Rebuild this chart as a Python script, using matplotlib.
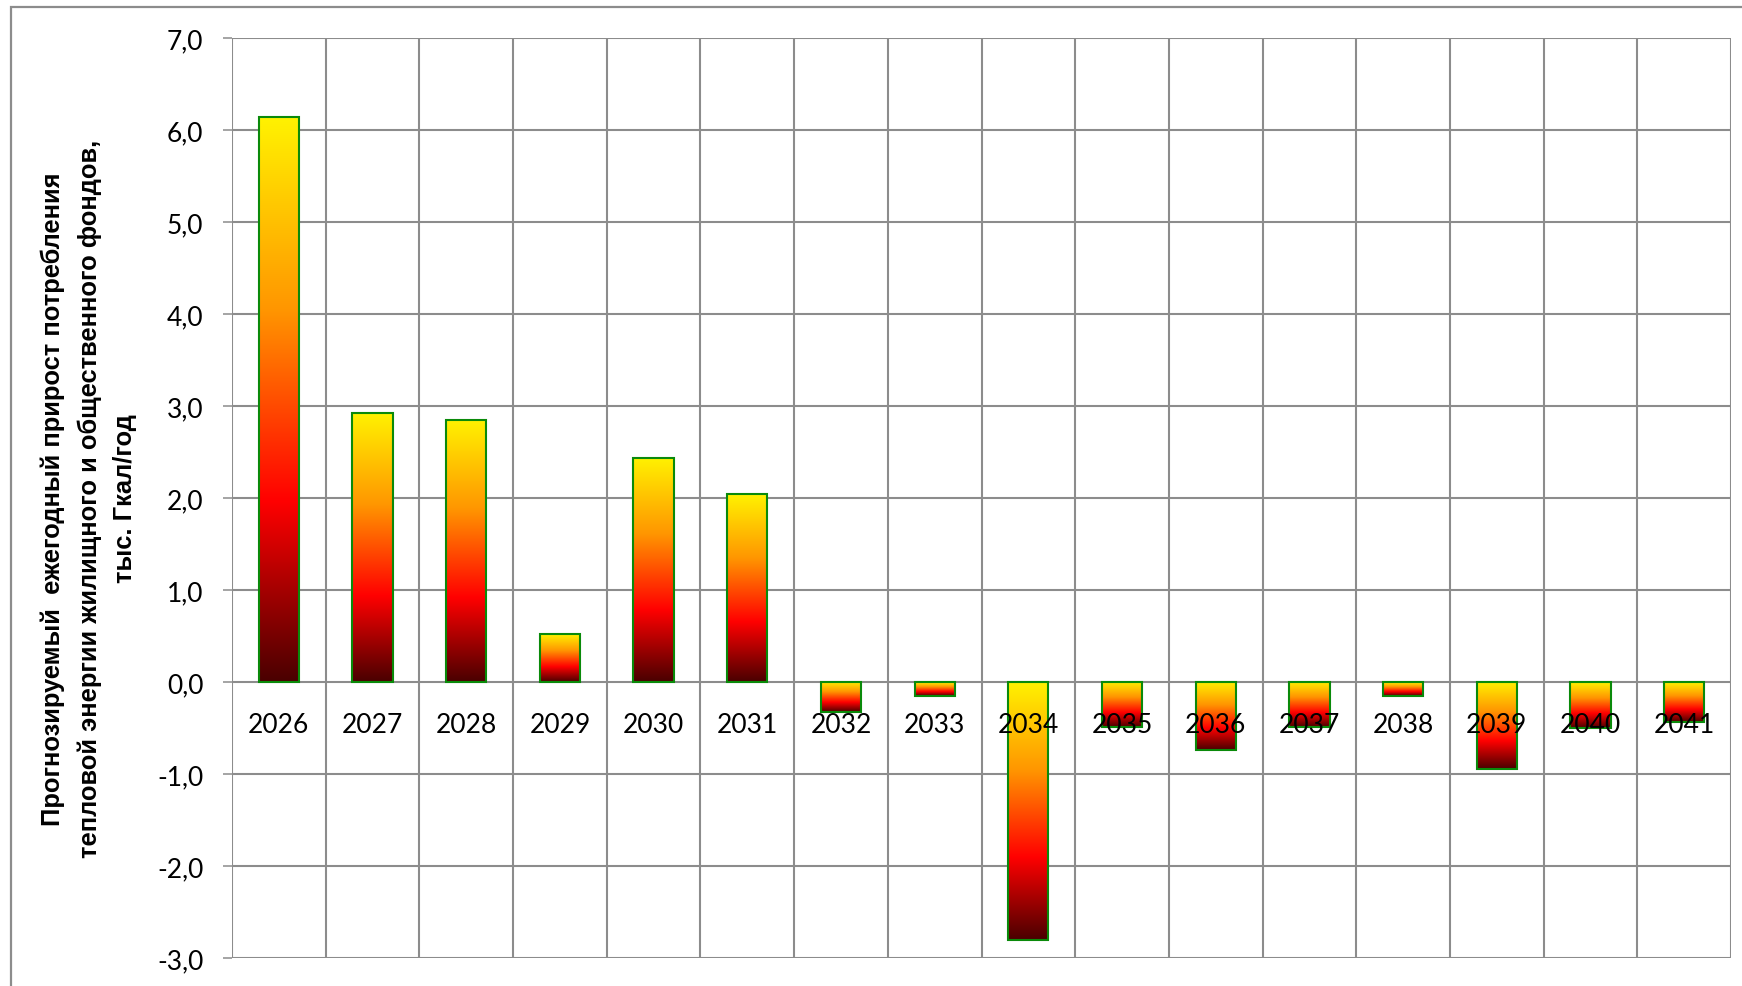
import numpy as np
import matplotlib
matplotlib.use("Agg")
import matplotlib.pyplot as plt
from matplotlib.colors import LinearSegmentedColormap
from matplotlib.patches import Rectangle

years = ["2026", "2027", "2028", "2029", "2030", "2031", "2032", "2033",
         "2034", "2035", "2036", "2037", "2038", "2039", "2040", "2041"]
growth = [6.14, 2.92, 2.85, 0.52, 2.44, 2.04, -0.33, -0.15,
          -2.80, -0.49, -0.74, -0.49, -0.15, -0.95, -0.50, -0.43]
y_ticks = [-3, -2, -1, 0, 1, 2, 3, 4, 5, 6, 7]
y_label = ("Прогнозируемый  ежегодный прирост потребления\n"
           "тепловой энергии жилищного и общественного фондов,\n"
           "тыс. Гкал/год")

GRID = "#8c8c8c"
EDGE = "#0a8a0a"
fire = LinearSegmentedColormap.from_list(
    "fire", [(0.0, "#4a0000"), (0.32, "#ff0000"), (0.66, "#ff9600"), (1.0, "#fff200")])

W, H = 1742, 987
fig = plt.figure(figsize=(W / 100, H / 100), dpi=100)
fig.patch.set_facecolor("white")

# outer chart frame (runs off the right and bottom edges)
fig.add_artist(Rectangle((11 / W, -0.05), 1.2, 1 - 8 / H + 0.05, transform=fig.transFigure,
                         fill=False, edgecolor=GRID, lw=1.6))

ax = fig.add_axes([232 / W, 1 - 959 / H, (1731 - 232) / W, (959 - 39) / H])
ax.set_facecolor("white")
n = len(years)
ax.set_xlim(-0.5, n - 0.5)
ax.set_ylim(y_ticks[0], y_ticks[-1])

# grid: horizontal at each tick, vertical between categories
for yv in y_ticks:
    ax.axhline(yv, color=GRID, lw=1.5, zorder=1)
for xv in np.arange(-0.5, n, 1.0):
    ax.axvline(xv, color=GRID, lw=1.5, zorder=1)

x = np.arange(n)
bars = ax.bar(x, growth, width=0.43, facecolor="none", edgecolor=EDGE, lw=1.5, zorder=3)

grad = np.linspace(0, 1, 256).reshape(-1, 1)
for b in bars:
    x0, y0 = b.get_x(), b.get_y()
    w, h = b.get_width(), b.get_height()
    lo, hi = min(y0, y0 + h), max(y0, y0 + h)
    im = ax.imshow(grad, cmap=fire, origin="lower", aspect="auto",
                   extent=[x0, x0 + w, lo, hi], zorder=2, interpolation="bilinear")
    im.set_clip_path(b)

ax.set_xlim(-0.5, n - 0.5)
ax.set_ylim(y_ticks[0], y_ticks[-1])

for s in ax.spines.values():
    s.set_visible(False)
ax.spines["bottom"].set_position(("data", 0))

ax.set_xticks(x)
ax.set_xticklabels(years, fontfamily="Lato", fontsize=19)
ax.tick_params(axis="x", length=0, pad=21.5)
ax.xaxis.set_zorder(5)

ax.set_yticks(y_ticks)
ax.set_yticklabels([f"{v:.1f}".replace(".", ",") for v in y_ticks],
                   fontfamily="Lato", fontsize=19)
ax.tick_params(axis="y", length=6.5, width=1.1, color=GRID, pad=14)

fig.text(89 / W, 1 - 499 / H, y_label, rotation=90, ha="center", va="center",
         multialignment="center", fontfamily="Liberation Sans", fontweight="bold",
         fontsize=18.4, linespacing=1.6)

fig.savefig("out.png", dpi=100)
